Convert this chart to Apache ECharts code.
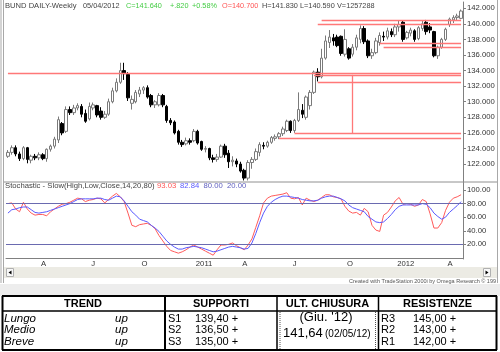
<!DOCTYPE html>
<html>
<head>
<meta charset="utf-8">
<script src="https://cdn.jsdelivr.net/npm/echarts@6/dist/echarts.min.js"></script>
<style>
  html, body { margin: 0; padding: 0; background: #fff; }
  #chart { width: 500px; height: 352px; }
</style>
</head>
<body>
<div id="chart"></div>
<script>
var FONT = '"Liberation Sans", Arial, sans-serif'

// weekly bars, Feb 5 2010 -> May 4 2012
var opens = [123.0,123.5,124.1,123.3,122.7,124.1,122.5,123.0,122.8,123.2,
  122.7,123.9,124.3,125.1,127.2,126.2,129.0,128.6,129.2,129.4,
  128.5,127.8,129.2,129.5,128.8,128.0,128.4,130.0,131.4,132.5,
  134.0,133.5,129.8,130.0,131.0,131.5,131.8,130.8,129.6,129.6,
  130.8,129.4,127.6,127.4,126.2,124.8,124.6,125.0,125.0,126.2,
  124.9,123.9,124.0,122.8,122.6,122.9,124.3,123.4,122.3,122.4,
  122.0,121.2,120.2,122.2,122.6,123.5,124.4,124.3,124.8,125.3,
  125.5,125.9,126.3,127.5,126.3,127.6,128.9,128.0,129.5,131.2,
  133.8,133.2,135.6,137.6,138.2,138.3,138.4,136.1,136.8,136.1,
  137.0,138.0,139.4,137.8,135.9,136.3,137.6,138.4,138.3,139.0,
  138.6,139.6,140.2,138.2,138.8,139.1,138.1,139.4,140.2,139.6,
  139.0,135.9,137.0,138.0,139.9,140.5,140.8,140.70]
var closes = [123.5,124.1,123.3,122.7,124.1,122.6,123.0,122.8,123.2,122.7,
  123.9,124.3,125.2,127.7,126.0,129.0,128.6,129.2,129.5,128.4,
  127.5,129.4,129.6,128.3,128.0,128.4,130.0,131.4,132.5,134.0,
  133.6,130.5,130.3,131.2,131.5,131.8,130.6,129.6,130.0,130.8,
  129.6,127.6,127.3,126.0,124.8,124.5,125.0,124.8,126.2,124.7,
  123.9,124.0,122.8,122.6,122.9,124.3,123.2,122.3,122.5,122.0,
  121.1,120.2,122.2,122.6,123.6,124.5,124.3,124.8,125.4,125.5,
  125.9,126.5,127.5,126.3,127.6,129.0,128.4,130.6,131.2,133.8,
  133.2,135.6,137.8,138.3,137.8,137.2,136.2,138.0,135.6,137.0,
  138.2,139.4,137.7,135.9,136.3,137.8,138.5,138.3,139.1,138.6,
  139.6,139.9,138.0,138.9,139.2,138.0,139.5,140.0,139.0,139.2,
  135.9,137.0,138.0,139.3,140.6,140.8,141.0,141.64]
var lows = [122.8,123.2,123.0,122.4,122.5,122.1,122.1,122.5,122.5,122.5,
  122.3,123.6,124.0,124.7,125.7,126.0,128.3,128.3,128.9,128.0,
  127.3,127.6,128.9,128.0,127.7,127.8,128.2,129.8,131.2,132.3,
  132.8,130.1,129.0,129.8,130.6,131.0,130.4,129.3,129.2,129.4,
  129.3,127.3,127.0,125.8,124.5,124.2,124.4,124.5,124.8,124.5,
  123.7,123.5,122.5,122.2,122.3,122.8,122.8,121.5,121.7,121.6,
  120.9,119.9,119.9,121.4,122.4,123.0,123.9,124.1,124.6,125.0,
  125.2,125.6,126.1,126.0,126.0,127.4,127.9,127.7,129.0,131.0,
  132.6,133.0,135.4,136.9,137.2,137.0,135.9,135.8,135.4,135.8,
  136.6,137.5,137.4,135.6,135.5,136.1,137.2,137.8,138.0,138.3,
  138.3,139.0,137.7,138.0,138.4,137.7,137.9,139.1,138.6,138.8,
  135.7,135.5,136.8,137.8,139.6,140.1,140.4,140.59]
var highs = [123.8,124.4,124.4,123.6,124.3,124.2,123.2,123.3,123.5,123.4,
  124.0,124.5,125.5,128.1,127.4,129.4,129.4,129.6,129.8,129.7,
  129.0,129.9,129.9,129.6,129.3,128.8,130.4,131.8,133.0,135.0,
  135.0,133.8,130.8,131.5,131.9,132.0,132.1,131.0,130.2,131.1,
  131.0,129.6,127.9,127.6,126.4,125.1,125.4,125.3,126.5,126.4,
  125.0,124.3,124.1,123.2,123.3,124.5,124.6,123.8,123.0,122.7,
  122.3,121.4,122.5,122.9,124.0,124.8,124.8,125.0,125.6,125.8,
  126.1,126.8,127.7,127.6,127.8,131.2,129.7,130.8,131.5,134.0,
  134.3,136.8,138.5,139.2,138.7,138.6,138.5,139.3,137.0,137.4,
  138.6,139.8,139.7,138.0,136.8,138.2,138.9,139.0,139.5,139.4,
  140.0,140.4,140.4,139.1,139.5,139.3,139.7,140.4,140.5,140.1,
  139.1,137.2,138.2,139.5,140.8,141.1,141.3,141.83]

// Stochastic slow %K (red) and %D (blue)
var stochK = [80,81,72,68,82,72,66,63,64,64,62,68,72,76,79,80,82,85,88,87,
  83,85,86,88,87,81,86,91,95,90,83,66,48,46,49,50,51,48,43,33,
  25,17,11,9,7,9,12,16,19,16,13,10,7,4,12,19,19,20,22,18,
  15,12,19,28,45,62,81,88,91,92,93,94,96,88,87,89,78,88,85,83,
  85,89,93,93,90,89,87,76,69,66,67,63,73,68,48,41,39,63,67,75,
  84,89,79,80,79,76,78,86,83,65,44,44,52,70,82,88,90,93.03]
var stochD = [66,71,72,74,75,75,71,67,66,67,68,70,72,74,76,78,80,83,86,87,
  87,87,87,88,88,86,85,88,91,90,84,76,68,63,57,55,53,48,44,39,
  32,25,20,16,13,13,15,16,17,16,15,13,11,9,10,12,14,16,17,16,
  15,13,14,22,36,52,66,76,82,86,89,91,91,90,89,88,86,85,84,84,
  85,88,90,91,91,89,87,84,78,74,72,70,68,61,57,53,52,53,58,64,
  71,76,78,78,78,78,78,80,79,74,66,61,57,60,67,72,77,82.84]

// support / resistance lines: [level, first bar]
var levelLines = [[140.45, 81], [139.95, 80], [137.45, 96], [137.05, 97],
  [133.6, 0], [133.42, 79], [132.56, 80], [125.99, 74], [125.34, 70]]
var verticalLine = [89, 133.45, 125.99]

var priceTicks = [122, 124, 126, 128, 130, 132, 134, 136, 138, 140, 142]
var stochTicks = [20, 40, 60, 80, 100]
var stochBands = [80, 20]
var quarterLabels = { 3: 'A', 6: 'J', 9: 'O' }

// table texts
var tableHeaders = ['TREND', 'SUPPORTI', 'ULT. CHIUSURA', 'RESISTENZE']
var trendNames = ['Lungo', 'Medio', 'Breve']
var trendDirs = ['up', 'up', 'up']
var supportNames = ['S1', 'S2', 'S3']
var supportValues = ['139,40 +', '136,50 +', '135,00 +']
var resistNames = ['R3', 'R2', 'R1']
var resistValues = ['145,00 +', '143,00 +', '142,00 +']
var lastCloseMonth = "(Giu. '12)"
var lastClose = '141,64'
var lastCloseDate = '(02/05/12)'

var weeks = []
var start = Date.UTC(2010, 1, 5)
for (var i = 0; i < closes.length; i++) {
  weeks.push(new Date(start + i * 7 * 864e5).toISOString().slice(0, 10))
}
var candles = opens.map(function (o, i) { return [o, closes[i], lows[i], highs[i]] })
var lastWeek = weeks[weeks.length - 1]

function isQuarterStart(idx) {
  var d = weeks[idx]
  var m = +d.slice(5, 7) - 1
  return +d.slice(8, 10) <= 7 && m % 3 === 0
}
function quarterLabel(value) {
  var m = +value.slice(5, 7) - 1
  return m === 0 ? value.slice(0, 4) : quarterLabels[m]
}

var markLines = levelLines.map(function (l) {
  return [{ coord: [weeks[l[1]], l[0]] }, { coord: [lastWeek, l[0]] }]
})
markLines.push([{ coord: [weeks[verticalLine[0]], verticalLine[1]] },
  { coord: [weeks[verticalLine[0]], verticalLine[2]] }])

function txt(x, y, s, o) {
  o = o || {}
  return {
    type: 'text', x: x, y: y, z: 100, silent: true,
    style: {
      text: s, fill: o.color || '#000', fontSize: o.size || 11, fontFamily: FONT,
      fontWeight: o.bold ? 'bold' : 'normal', fontStyle: o.italic ? 'italic' : 'normal',
      align: o.align || 'left', verticalAlign: 'middle'
    }
  }
}
function line(x1, y1, x2, y2, w, color, dash) {
  return {
    type: 'line', z: 100, silent: true, shape: { x1: x1, y1: y1, x2: x2, y2: y2 },
    style: { stroke: color || '#000', lineWidth: w || 1, lineDash: dash || null }
  }
}
function rect(x, y, w, h, fill, stroke) {
  return {
    type: 'rect', z: 99, silent: true, shape: { x: x, y: y, width: w, height: h },
    style: { fill: fill, stroke: stroke || null, lineWidth: 1 }
  }
}

var graphics = []
// window chrome
graphics.push(line(1, 0, 1, 283, 1, '#a8a8a8'), line(3.5, 0, 3.5, 283, 1, '#a8a8a8'))
graphics.push(line(497.5, 0, 497.5, 283, 1, '#a8a8a8'))
graphics.push(line(4, 182, 497, 182, 1, '#909090'))
graphics.push(rect(4, 267, 493, 11, '#ecebe4'))
graphics.push(rect(6.5, 268.5, 7, 8, '#f8f8f8', '#b0b0b0'))
graphics.push({ type: 'polygon', z: 101, silent: true, shape: { points: [[8.5, 272.5], [11.5, 270.5], [11.5, 274.5]] }, style: { fill: '#000' } })
graphics.push(rect(483.5, 268.5, 7, 8, '#f8f8f8', '#b0b0b0'))
graphics.push({ type: 'polygon', z: 101, silent: true, shape: { points: [[488.5, 272.5], [485.5, 270.5], [485.5, 274.5]] }, style: { fill: '#000' } })
graphics.push(txt(496, 281, 'Created with TradeStation 2000i by Omega Research \u00a9 199', { size: 5.5, color: '#555', align: 'right' }))
graphics.push(rect(0, 284, 500, 12, '#ededed'))

// header texts
var small = 7.7
var head = 7.3
graphics.push(txt(5, 6, 'BUND DAILY-Weekly', { size: 7.6, color: '#444' }))
graphics.push(txt(83, 6, '05/04/2012', { size: head, color: '#444' }))
graphics.push(txt(126, 6, 'C=141.640', { size: head, color: '#44cc44' }))
graphics.push(txt(170, 6, '+.820', { size: head, color: '#44cc44' }))
graphics.push(txt(192, 6, '+0.58%', { size: head, color: '#44cc44' }))
graphics.push(txt(222, 6, 'O=140.700', { size: head, color: '#ff5555' }))
graphics.push(txt(262, 6, 'H=141.830', { size: head, color: '#444' }))
graphics.push(txt(300, 6, 'L=140.590', { size: head, color: '#444' }))
graphics.push(txt(337, 6, 'V=1257288', { size: head, color: '#444' }))
graphics.push(txt(5, 186, 'Stochastic - Slow(High,Low,Close,14,20,80)', { size: small, color: '#444' }))
graphics.push(txt(157, 186, stochK[stochK.length - 1].toFixed(2), { size: small, color: '#ff5555' }))
graphics.push(txt(180, 186, stochD[stochD.length - 1].toFixed(2), { size: small, color: '#5a5aff' }))
graphics.push(txt(203.5, 186, stochBands[0].toFixed(2), { size: small, color: '#6060c0' }))
graphics.push(txt(227, 186, stochBands[1].toFixed(2), { size: small, color: '#6060c0' }))

// table
graphics.push(rect(2, 296, 495, 54, '#fff'))
graphics.push(line(2, 296, 497, 296, 2), line(2, 311, 497, 311, 1.5), line(2, 350, 497, 350, 2))
graphics.push(line(2.5, 296, 2.5, 350, 2), line(496.5, 296, 496.5, 350, 2))
graphics.push(line(165, 296, 165, 350, 2), line(277, 296, 277, 350, 1.5), line(378.5, 296, 378.5, 350, 1.5))
graphics.push(line(280, 312, 280, 349, 1, '#555', [1, 1]), line(375.5, 312, 375.5, 349, 1, '#555', [1, 1]))
var headerX = [83, 221, 327.5, 437.5]
tableHeaders.forEach(function (h, i) {
  graphics.push(txt(headerX[i], 304, h, { bold: true, align: 'center', size: 11 }))
})
var rowY = [318.5, 330, 342]
rowY.forEach(function (y, i) {
  graphics.push(txt(4, y, trendNames[i], { italic: true, size: 11.5 }))
  graphics.push(txt(115, y, trendDirs[i], { italic: true, size: 11.5 }))
  graphics.push(txt(168, y, supportNames[i], { size: 11 }))
  graphics.push(txt(195, y, supportValues[i], { size: 11 }))
  graphics.push(txt(381, y, resistNames[i], { size: 11 }))
  graphics.push(txt(413, y, resistValues[i], { size: 11 }))
})
graphics.push(txt(326, 317.5, lastCloseMonth, { size: 13, align: 'center' }))
graphics.push(txt(283, 333.5, lastClose, { size: 13 }))
graphics.push(txt(325, 334, lastCloseDate, { size: 10 }))

var chart = echarts.init(document.getElementById('chart'))
var option = {
  animation: false,
  backgroundColor: '#fff',
  grid: [
    { left: 6, right: 37, top: 2, height: 180 },
    { left: 6, right: 37, top: 182, height: 77 }
  ],
  xAxis: [
    { type: 'category', gridIndex: 0, data: weeks, show: false },
    {
      type: 'category', gridIndex: 1, data: weeks,
      axisLine: { lineStyle: { color: '#808080' } },
      axisTick: { alignWithLabel: true, length: 3, interval: isQuarterStart, lineStyle: { color: '#555' } },
      axisLabel: {
        interval: isQuarterStart, formatter: quarterLabel, align: 'left', margin: 1,
        padding: [0, 0, 0, 2], color: '#333', fontSize: small, fontFamily: FONT
      }
    }
  ],
  yAxis: [
    {
      type: 'value', gridIndex: 0, position: 'right', min: 119.7, max: 142.8,
      axisLine: { show: true, lineStyle: { color: '#808080' } },
      axisTick: { show: true, length: 3, customValues: priceTicks, lineStyle: { color: '#808080' } },
      axisLabel: { customValues: priceTicks, formatter: function (v) { return v.toFixed(3) }, color: '#333', fontSize: small, fontFamily: FONT, margin: 4 },
      splitLine: { show: false }
    },
    {
      type: 'value', gridIndex: 1, position: 'right', min: -1.6, max: 111.8,
      axisLine: { show: true, lineStyle: { color: '#808080' } },
      axisTick: { show: true, length: 3, customValues: stochTicks, lineStyle: { color: '#808080' } },
      axisLabel: { customValues: stochTicks, formatter: function (v) { return v.toFixed(2) }, color: '#333', fontSize: small, fontFamily: FONT, margin: 4 },
      splitLine: { show: false }
    }
  ],
  series: [
    {
      type: 'candlestick', xAxisIndex: 0, yAxisIndex: 0, data: candles, barWidth: 3,
      itemStyle: { color: '#fff', color0: '#000', borderColor: '#7a7a7a', borderColor0: '#000', borderWidth: 1 },
      markLine: {
        silent: true, symbol: ['none', 'none'], label: { show: false },
        lineStyle: { color: '#ff7878', width: 1.3, type: 'solid' },
        data: markLines
      }
    },
    {
      type: 'line', xAxisIndex: 1, yAxisIndex: 1, data: stochK, showSymbol: false,
      lineStyle: { color: '#ff5a5a', width: 1 }
    },
    {
      type: 'line', xAxisIndex: 1, yAxisIndex: 1, data: stochD, showSymbol: false,
      lineStyle: { color: '#5a5aff', width: 1 },
      markLine: {
        silent: true, symbol: ['none', 'none'], label: { show: false },
        lineStyle: { color: '#6a6ab0', width: 1, type: 'solid' },
        data: stochBands.map(function (v) { return { yAxis: v } })
      }
    }
  ],
  graphic: graphics
}
chart.setOption(option)
</script>
</body>
</html>
